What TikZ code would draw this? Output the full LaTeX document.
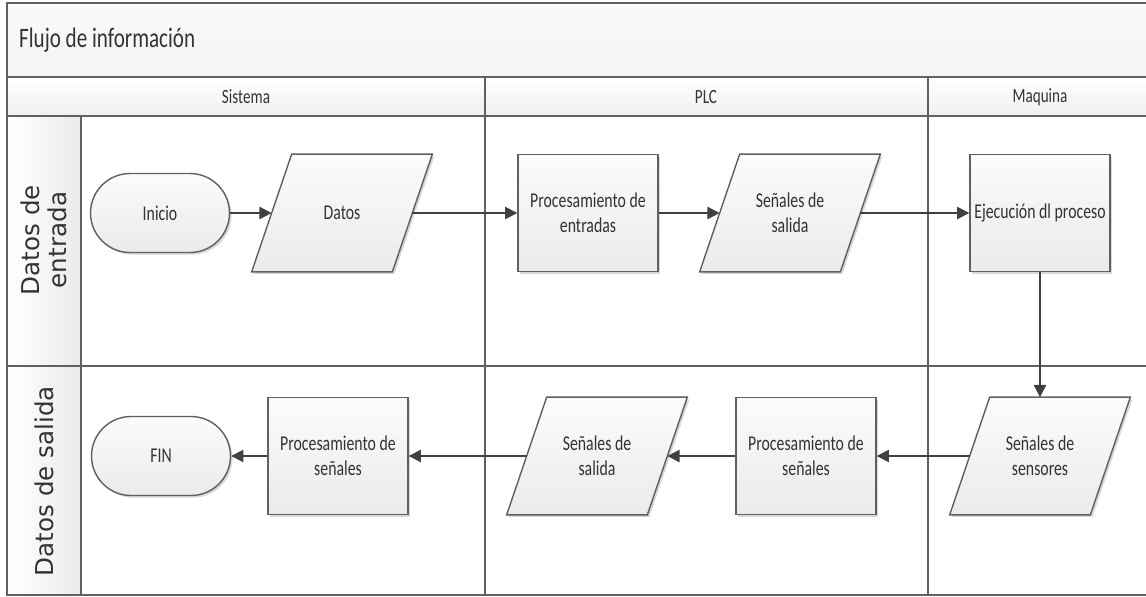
\documentclass[tikz,border=0pt]{standalone}
\usepackage{fontspec}
\setmainfont{Carlito}[FakeStretch=0.75]
\newfontfamily\lanefont{DejaVu Sans}
\usetikzlibrary{arrows.meta,shadows,backgrounds}
\definecolor{linegray}{HTML}{606060}
\definecolor{arrowgray}{HTML}{404040}
\definecolor{textgray}{HTML}{333333}
\begin{document}
\begin{tikzpicture}[x=0.02cm,y=-0.02cm,
cell/.style={draw=linegray,line width=0.8pt},
boxshade/.style={top color=gray!3,bottom color=gray!16,drop shadow={opacity=0.3,shadow xshift=1.2pt,shadow yshift=-1.2pt}},
proc/.style={cell,boxshade,minimum width=2.8cm,minimum height=2.34cm,align=center,inner sep=1pt,text=textgray,font=\fontsize{12}{14}\selectfont},
term/.style={proc,minimum width=2.78cm,minimum height=1.58cm,rounded corners=0.79cm},
slant/.style={minimum width=2.8cm,minimum height=2.34cm,align=center,inner sep=1pt,text=textgray,font=\fontsize{12}{14}\selectfont},
lane/.style={rotate=90,align=center,text=textgray,font=\lanefont\fontsize{14}{15}\selectfont},
flow/.style={arrowgray,line width=1pt,-{Triangle[length=7pt,width=7pt]}}]
\useasboundingbox (0,0) rectangle (1146,596);
\node[anchor=west,text=textgray,font=\fontsize{16}{18}\selectfont] (titulo) at (13,40) {Flujo de información};
\node[text=textgray,font=\fontsize{11.5}{13}\selectfont] (sistema) at (246,97) {Sistema};
\node[text=textgray,font=\fontsize{11.5}{13}\selectfont] (plc) at (706,97) {PLC};
\node[text=textgray,font=\fontsize{11.5}{13}\selectfont] (maquina) at (1040,97) {Maquina};
\node[lane] (entrada) at (44,240) {Datos de\\entrada};
\node[lane] (salida) at (44,481) {Datos de salida};
\node[term] (inicio) at (160,213) {Inicio};
\node[slant] (datos) at (342,213) {Datos};
\node[proc] (procent) at (588,213) {Procesamiento de\\entradas};
\node[slant] (senalA) at (790,213) {Señales de\\salida};
\node[proc] (ejec) at (1040,213) {Ejecución dl proceso};
\node[slant] (sensores) at (1040,456) {Señales de\\sensores};
\node[proc] (procsenB) at (806,456) {Procesamiento de\\señales};
\node[slant] (senalB) at (597,456) {Señales de\\salida};
\node[proc] (procsenA) at (338,456) {Procesamiento de\\señales};
\node[term] (fin) at (161,456) {FIN};
\begin{scope}[on background layer]
\clip (0,0) rectangle (1146,596);
\fill[white] (0,0) rectangle (1146,596);
\draw[cell,top color=gray!4,bottom color=gray!9] (7,3) rectangle (1152,77);
\foreach \xa/\xb in {7/485,485/928,928/1152}
{
\draw[cell,top color=white,bottom color=gray!12] (\xa,77) rectangle (\xb,116);
}
\foreach \ya/\yb in {116/366,366/595}
{
\draw[cell] (7,\ya) rectangle (1152,\yb);
\draw[cell,left color=white,right color=gray!16] (7,\ya) rectangle (81,\yb);
}
\draw[cell] (485,116) -- (485,595);
\draw[cell] (928,116) -- (928,595);
\foreach \n in {datos,senalA,sensores,senalB}
{
\draw[cell,boxshade] ([xshift=0.4cm]\n.north west) -- ([xshift=0.4cm]\n.north east) -- ([xshift=-0.4cm]\n.south east) -- ([xshift=-0.4cm]\n.south west) -- cycle;
}
\end{scope}
\draw[flow] (inicio.east) -- (datos.west);
\draw[flow] (datos.east) -- (procent.west);
\draw[flow] (procent.east) -- (senalA.west);
\draw[flow] (senalA.east) -- (ejec.west);
\draw[flow] (ejec.south) -- (sensores.north);
\draw[flow] (sensores.west) -- (procsenB.east);
\draw[flow] (procsenB.west) -- (senalB.east);
\draw[flow] (senalB.west) -- (procsenA.east);
\draw[flow] (procsenA.west) -- (fin.east);
\end{tikzpicture}
\end{document}
